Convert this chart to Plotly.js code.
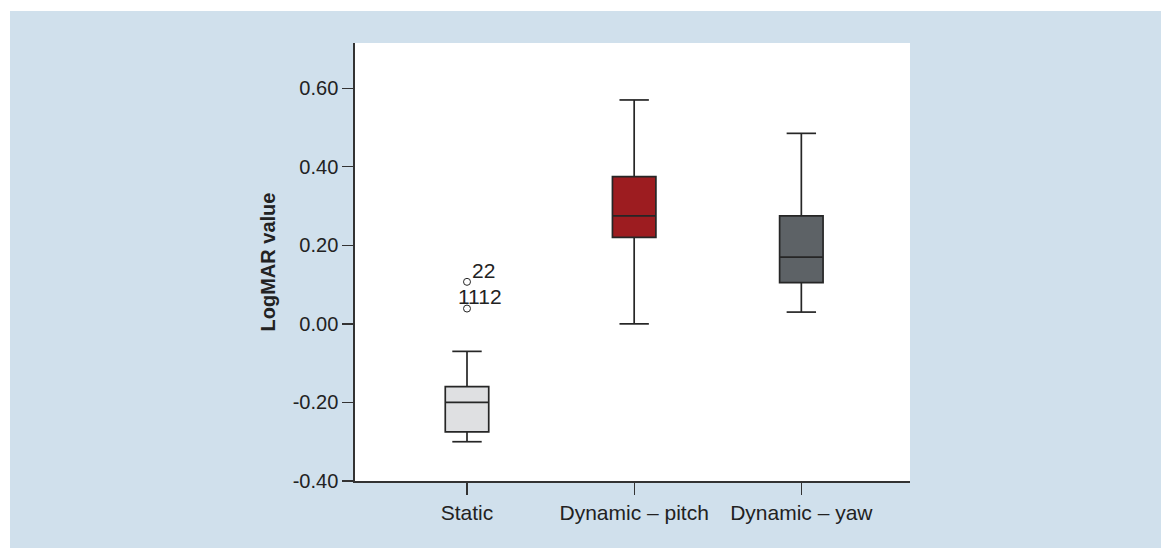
<!DOCTYPE html>
<html>
<head>
<meta charset="utf-8">
<script src="https://cdn.plot.ly/plotly-3.0.1.min.js"></script>
<style>
  html, body { margin: 0; padding: 0; background: #ffffff; width: 1161px; height: 548px; overflow: hidden; }
  #chart { position: absolute; left: 10px; top: 11px; width: 1151px; height: 537px; }
</style>
</head>
<body>
<div id="chart"></div>
<script>
// ---- data ----
const categories = ['Static', 'Dynamic \u2013 pitch', 'Dynamic \u2013 yaw'];
const lowerWhisker = [-0.30, 0.00, 0.03];
const q1Values     = [-0.275, 0.22, 0.105];
const medianValues = [-0.20, 0.275, 0.17];
const q3Values     = [-0.16, 0.375, 0.275];
const upperWhisker = [-0.07, 0.57, 0.485];
const outlierCategory = ['Static', 'Static'];
const outlierValues   = [0.107, 0.039];
const outlierLabels   = ['22', '1112'];
const yTickValues = [-0.40, -0.20, 0.00, 0.20, 0.40, 0.60];
const yTickLabels = ['-0.40', '-0.20', '0.00', '0.20', '0.40', '0.60'];

// ---- styles ----
const fills = ['#dfe0e2', '#9d1c20', '#5d6266'];
const ink = '#262626';

const traces = categories.map((c, i) => ({
  type: 'box',
  x: [c],
  q1: [q1Values[i]],
  median: [medianValues[i]],
  q3: [q3Values[i]],
  lowerfence: [lowerWhisker[i]],
  upperfence: [upperWhisker[i]],
  boxpoints: false,
  width: 0.26,
  fillcolor: fills[i],
  line: { color: ink, width: 1.7 },
  whiskerwidth: 0,
  hoverinfo: 'skip',
  showlegend: false
}));

// whisker caps
traces.push({
  type: 'scatter',
  mode: 'markers',
  x: categories.concat(categories),
  y: lowerWhisker.concat(upperWhisker),
  marker: { symbol: 'line-ew', size: 21, line: { color: ink, width: 1.7 } },
  hoverinfo: 'skip',
  showlegend: false
});

// outliers
traces.push({
  type: 'scatter',
  mode: 'markers',
  x: outlierCategory,
  y: outlierValues,
  marker: { symbol: 'circle-open', size: 7, color: ink, line: { color: ink, width: 1 } },
  hoverinfo: 'skip',
  showlegend: false
});

const labelOffsets = [{ xshift: 3, yshift: 11 }, { xshift: -11, yshift: 12 }];
const annotations = outlierLabels.map((t, i) => ({
  x: categories.indexOf(outlierCategory[i]),
  y: outlierValues[i],
  xref: 'x', yref: 'y',
  text: t,
  showarrow: false,
  xanchor: 'left', yanchor: 'middle',
  xshift: labelOffsets[i].xshift,
  yshift: labelOffsets[i].yshift,
  font: { size: 21, color: '#222222' }
}));

const layout = {
  width: 1151, height: 537,
  paper_bgcolor: '#d0e0ec',
  plot_bgcolor: '#ffffff',
  margin: { l: 345, r: 251, t: 32, b: 67 },
  font: { family: 'Liberation Sans, Arial, sans-serif', size: 20, color: '#222222' },
  showlegend: false,
  xaxis: {
    type: 'category',
    categoryorder: 'array',
    categoryarray: categories,
    range: [-0.67, 2.65],
    showgrid: false, zeroline: false,
    showline: true, linecolor: '#333333', linewidth: 1.7,
    ticks: 'outside', ticklen: 12, tickwidth: 1.3, tickcolor: '#333333',
    tickfont: { size: 21, color: '#222222' },
    fixedrange: true
  },
  yaxis: {
    range: [-0.40, 0.715],
    tickvals: yTickValues,
    ticktext: yTickLabels,
    showgrid: false, zeroline: false,
    showline: true, linecolor: '#333333', linewidth: 1.7,
    ticks: 'outside', ticklen: 11, tickwidth: 1.3, tickcolor: '#333333',
    tickfont: { size: 20, color: '#222222' },
    title: { text: '<b>LogMAR value</b>', font: { size: 20, color: '#222222' }, standoff: 12 },
    automargin: false,
    fixedrange: true
  },
  annotations: annotations
};

Plotly.newPlot('chart', traces, layout, { staticPlot: true, displayModeBar: false });
</script>
</body>
</html>
